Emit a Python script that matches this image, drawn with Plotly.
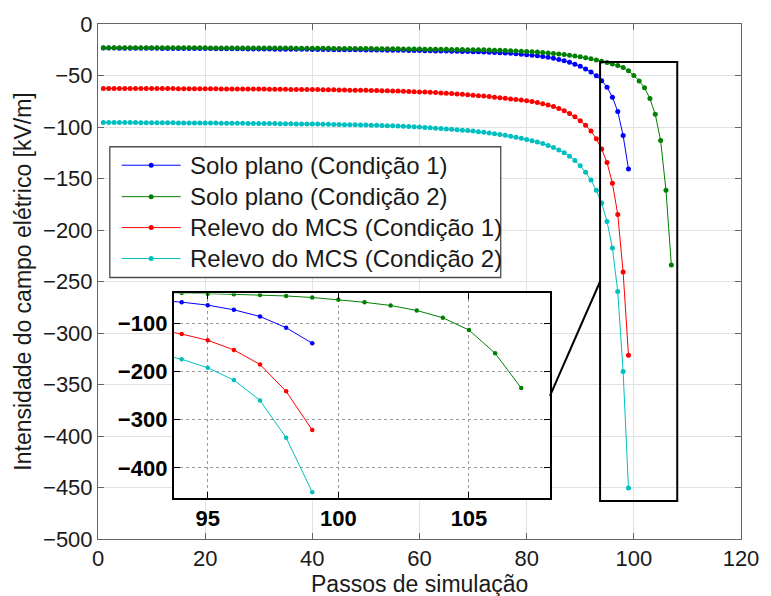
import plotly.graph_objects as go

# Campo elétrico [kV/m] por passo de simulação (passos 1, 2, 3, ...)
solo_plano_c1 = [
    -23.4, -23.4, -23.4, -23.5, -23.5, -23.5, -23.5, -23.6, -23.6, -23.6,
    -23.6, -23.7, -23.7, -23.7, -23.7, -23.8, -23.8, -23.8, -23.9, -23.9,
    -23.9, -24.0, -24.0, -24.0, -24.1, -24.1, -24.1, -24.2, -24.2, -24.3,
    -24.3, -24.3, -24.4, -24.4, -24.5, -24.5, -24.5, -24.6, -24.6, -24.7,
    -24.7, -24.8, -24.8, -24.9, -24.9, -25.0, -25.0, -25.1, -25.1, -25.2,
    -25.2, -25.3, -25.3, -25.4, -25.5, -25.5, -25.6, -25.7, -25.7, -25.8,
    -25.9, -26.0, -26.1, -26.2, -26.3, -26.4, -26.5, -26.6, -26.7, -26.9,
    -27.0, -27.2, -27.4, -27.6, -27.9, -28.2, -28.5, -28.9, -29.3, -29.8,
    -30.3, -30.9, -31.6, -32.4, -33.3, -34.4, -35.7, -37.2, -39.0, -41.1,
    -43.6, -46.6, -50.3, -55.1, -61.3, -71.0, -84.9, -108.3, -140.7,
]

solo_plano_c2 = [
    -23.0, -23.0, -23.0, -23.0, -23.0, -23.0, -23.0, -23.0, -23.0, -23.0,
    -23.0, -23.0, -23.0, -23.0, -23.1, -23.1, -23.1, -23.1, -23.1, -23.1,
    -23.2, -23.2, -23.2, -23.2, -23.2, -23.2, -23.2, -23.3, -23.3, -23.3,
    -23.3, -23.3, -23.4, -23.4, -23.4, -23.4, -23.5, -23.5, -23.5, -23.5,
    -23.6, -23.6, -23.6, -23.7, -23.7, -23.7, -23.8, -23.8, -23.8, -23.9,
    -23.9, -24.0, -24.0, -24.0, -24.1, -24.1, -24.2, -24.2, -24.3, -24.3,
    -24.4, -24.4, -24.5, -24.5, -24.6, -24.7, -24.7, -24.8, -24.9, -24.9,
    -25.0, -25.1, -25.3, -25.4, -25.6, -25.8, -26.0, -26.2, -26.4, -26.7,
    -27.0, -27.3, -27.7, -28.1, -28.6, -29.1, -29.7, -30.4, -31.1, -31.9,
    -32.8, -33.8, -34.9, -36.1, -37.4, -38.8, -40.3, -42.2, -45.4, -50.0,
    -55.3, -62.0, -72.4, -87.7, -113.2, -161.5, -233.9,
]

relevo_mcs_c1 = [
    -62.5, -62.5, -62.5, -62.5, -62.5, -62.6, -62.6, -62.6, -62.6, -62.6,
    -62.7, -62.7, -62.7, -62.7, -62.8, -62.8, -62.8, -62.8, -62.9, -62.9,
    -62.9, -62.9, -63.0, -63.0, -63.0, -63.1, -63.1, -63.1, -63.2, -63.2,
    -63.2, -63.3, -63.3, -63.4, -63.4, -63.5, -63.5, -63.6, -63.6, -63.7,
    -63.7, -63.8, -63.9, -63.9, -64.0, -64.1, -64.2, -64.2, -64.3, -64.4,
    -64.5, -64.6, -64.7, -64.8, -65.0, -65.1, -65.3, -65.5, -65.7, -65.9,
    -66.1, -66.3, -66.6, -66.9, -67.2, -67.5, -67.9, -68.3, -68.7, -69.2,
    -69.6, -70.0, -70.5, -71.0, -71.5, -72.1, -72.7, -73.3, -73.9, -74.5,
    -75.3, -76.3, -77.4, -78.7, -80.2, -82.0, -84.2, -86.9, -90.1, -93.9,
    -98.4, -103.8, -111.5, -121.4, -134.5, -154.5, -184.9, -240.8, -321.5,
]

relevo_mcs_c2 = [
    -95.6, -95.6, -95.6, -95.7, -95.7, -95.7, -95.7, -95.8, -95.8, -95.8,
    -95.8, -95.9, -95.9, -95.9, -96.0, -96.0, -96.0, -96.1, -96.1, -96.1,
    -96.2, -96.2, -96.3, -96.3, -96.3, -96.4, -96.4, -96.5, -96.5, -96.6,
    -96.6, -96.7, -96.7, -96.8, -96.8, -96.9, -97.0, -97.0, -97.1, -97.2,
    -97.2, -97.3, -97.4, -97.5, -97.6, -97.7, -97.8, -97.9, -98.0, -98.1,
    -98.3, -98.4, -98.6, -98.7, -98.9, -99.1, -99.3, -99.5, -99.7, -99.9,
    -100.5, -100.8, -101.1, -101.5, -101.9, -102.3, -102.7, -103.1, -103.5, -104.0,
    -104.5, -105.1, -105.8, -106.5, -107.3, -108.1, -109.0, -110.0, -111.0, -112.1,
    -113.3, -114.6, -116.1, -117.9, -120.0, -122.3, -125.0, -128.3, -132.5, -137.7,
    -144.0, -151.5, -161.5, -173.9, -191.8, -217.4, -259.6, -337.4, -450.6,
]

series_names = [
    "Solo plano (Condição 1)",
    "Solo plano (Condição 2)",
    "Relevo do MCS (Condição 1)",
    "Relevo do MCS (Condição 2)",
]
series_values = [solo_plano_c1, solo_plano_c2, relevo_mcs_c1, relevo_mcs_c2]
series_colors = ["#0000ff", "#008000", "#ff0000", "#00bfbf"]

main_x_ticks = [0, 20, 40, 60, 80, 100, 120]
main_y_ticks = [0, -50, -100, -150, -200, -250, -300, -350, -400, -450, -500]
inset_x_ticks = [95, 100, 105]
inset_y_ticks = [-100, -200, -300, -400]

# zoom window shown in the inset
zoom_x = [93.7, 108.1]
zoom_y = [-463, -37]
link_value = -250

FONT = "Liberation Sans, Arial, sans-serif"
W, H = 771, 596
ML, MR, MT, MB = 98, 20, 23, 57
PW, PH = W - ML - MR, H - MT - MB

inset_dom_x = [(175 - ML) / PW, (557 - ML) / PW]
inset_dom_y = [(H - MB - 498) / PH, (H - MB - 293) / PH]

fig = go.Figure()

for name, vals, col in zip(series_names, series_values, series_colors):
    steps = list(range(1, len(vals) + 1))
    fig.add_trace(go.Scatter(
        x=steps, y=vals, name=name, mode="lines+markers",
        line=dict(color=col, width=1), marker=dict(color=col, size=5),
        xaxis="x", yaxis="y", showlegend=False,
    ))
for name, vals, col in zip(series_names, series_values, series_colors):
    steps = list(range(1, len(vals) + 1))
    fig.add_trace(go.Scatter(
        x=steps, y=vals, name=name, mode="lines+markers",
        line=dict(color=col, width=1), marker=dict(color=col, size=4.5),
        xaxis="x2", yaxis="y2", showlegend=False,
    ))

shapes = []
annotations = []

# zoom window on the main axes
shapes.append(dict(type="rect", xref="x", yref="y",
                   x0=zoom_x[0], x1=zoom_x[1], y0=zoom_y[0], y1=zoom_y[1],
                   line=dict(color="black", width=2), layer="above"))

# connector from the zoom window to the inset
main_x_range = [0, 120]
main_y_range = [-500, 0]
frac_y = (link_value - zoom_y[0]) / (zoom_y[1] - zoom_y[0])
paper_y = inset_dom_y[0] + frac_y * (inset_dom_y[1] - inset_dom_y[0])
end_x = main_x_range[0] + inset_dom_x[1] * (main_x_range[1] - main_x_range[0])
end_y = main_y_range[0] + paper_y * (main_y_range[1] - main_y_range[0])
shapes.append(dict(type="line", xref="x", yref="y",
                   x0=zoom_x[0], y0=link_value, x1=end_x, y1=end_y,
                   line=dict(color="black", width=2), layer="above"))


def px_x(p):
    return (p - ML) / PW


def px_y(p):
    return (H - MB - p) / PH


# legend box
shapes.append(dict(type="rect", xref="paper", yref="paper",
                   x0=px_x(110), x1=px_x(507), y0=px_y(277), y1=px_y(146),
                   fillcolor="white", line=dict(color="#4d4d4d", width=1.3),
                   layer="above"))
legend_rows = [164.5, 196, 227, 258]
for name, col, row in zip(series_names, series_colors, legend_rows):
    shapes.append(dict(type="line", xref="paper", yref="paper",
                       x0=px_x(122), x1=px_x(182), y0=px_y(row), y1=px_y(row),
                       line=dict(color=col, width=1), layer="above"))
    shapes.append(dict(type="circle", xref="paper", yref="paper",
                       xsizemode="pixel", ysizemode="pixel",
                       xanchor=px_x(152), yanchor=px_y(row),
                       x0=-2.5, x1=2.5, y0=-2.5, y1=2.5,
                       fillcolor=col, line=dict(color=col, width=0),
                       layer="above"))
    annotations.append(dict(xref="paper", yref="paper", x=px_x(189), y=px_y(row),
                            text=name, showarrow=False, xanchor="left",
                            yanchor="middle",
                            font=dict(family=FONT, size=24, color="#1a1a1a")))

# axis titles
annotations.append(dict(xref="paper", yref="paper", x=px_x(21), y=0.5,
                        text="Intensidade do campo elétrico [kV/m]",
                        textangle=-90, showarrow=False, xanchor="center",
                        yanchor="middle",
                        font=dict(family=FONT, size=23, color="#1a1a1a")))
annotations.append(dict(xref="paper", yref="paper", x=0.5, y=px_y(584),
                        text="Passos de simulação", showarrow=False,
                        xanchor="center", yanchor="middle",
                        font=dict(family=FONT, size=23, color="#1a1a1a")))

axis_common = dict(showline=True, mirror="ticks", ticks="inside", ticklen=6,
                   zeroline=False, showgrid=True)

fig.update_layout(
    width=W, height=H,
    margin=dict(l=ML, r=MR, t=MT, b=MB),
    paper_bgcolor="white", plot_bgcolor="white",
    font=dict(family=FONT, size=22, color="#1a1a1a"),
    xaxis=dict(domain=[0, 1], range=main_x_range, tickvals=main_x_ticks,
               linecolor="#666666", linewidth=1, tickcolor="#666666",
               gridcolor="#e2e2e2", gridwidth=1, anchor="y",
               tickfont=dict(size=22), **axis_common),
    yaxis=dict(domain=[0, 1], range=main_y_range, tickvals=main_y_ticks,
               linecolor="#666666", linewidth=1, tickcolor="#666666",
               gridcolor="#e2e2e2", gridwidth=1, anchor="x",
               tickfont=dict(size=22), **axis_common),
    xaxis2=dict(domain=inset_dom_x, range=zoom_x, tickvals=inset_x_ticks,
                linecolor="black", linewidth=2, tickcolor="black",
                gridcolor="#9a9a9a", griddash="dot", gridwidth=1, anchor="y2",
                tickfont=dict(size=22, weight="bold", color="black"),
                **axis_common),
    yaxis2=dict(domain=inset_dom_y, range=zoom_y, tickvals=inset_y_ticks,
                linecolor="black", linewidth=2, tickcolor="black",
                gridcolor="#9a9a9a", griddash="dot", gridwidth=1, anchor="x2",
                tickfont=dict(size=22, weight="bold", color="black"),
                **axis_common),
    shapes=shapes,
    annotations=annotations,
    showlegend=False,
)

fig.write_html("out.html")
